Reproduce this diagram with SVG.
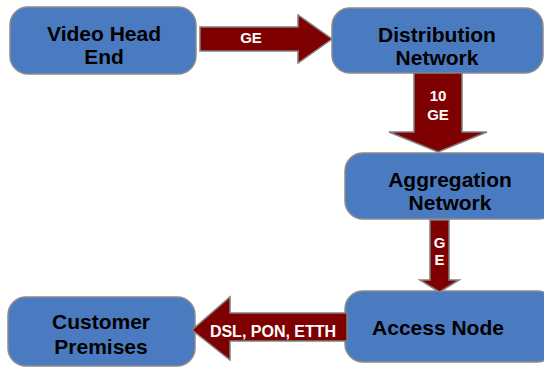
<svg xmlns="http://www.w3.org/2000/svg" width="544" height="367" viewBox="0 0 544 367">
<style>
.node{fill:#4a7bc0;stroke:#8c8c8c;stroke-width:1.5}
.nt{font-family:"Liberation Sans",Arial,sans-serif;font-weight:bold;font-size:21px;fill:#000;text-anchor:middle}
.arr{fill:#7f0000;stroke:#808080;stroke-width:1.5;stroke-linejoin:miter}
.at{font-family:"Liberation Sans",Arial,sans-serif;font-weight:bold;font-size:15px;fill:#fff;text-anchor:middle}
</style>
<rect width="544" height="367" fill="#fff"/>
<g id="video-head-end">
<rect class="node" x="10" y="7" width="186" height="67" rx="18"/>
<text class="nt" x="104" y="41">Video Head</text>
<text class="nt" x="104" y="64">End</text>
</g>
<g id="distribution-network">
<rect class="node" x="332" y="8" width="211" height="65" rx="18"/>
<text class="nt" x="437" y="42">Distribution</text>
<text class="nt" x="437" y="65">Network</text>
</g>
<g id="aggregation-network">
<rect class="node" x="345" y="153" width="212" height="66" rx="18"/>
<text class="nt" x="450" y="187">Aggregation</text>
<text class="nt" x="450" y="210">Network</text>
</g>
<g id="access-node">
<rect class="node" x="345" y="291" width="210" height="71" rx="18"/>
<text class="nt" x="438" y="335">Access Node</text>
</g>
<g id="customer-premises">
<rect class="node" x="8" y="297" width="187" height="69" rx="18"/>
<text class="nt" x="101" y="329">Customer</text>
<text class="nt" x="101" y="354">Premises</text>
</g>
<g id="connectors">
<polygon class="arr" points="200,27 298,27 298,15 332,39 298,63 298,51 200,51"/>
<text class="at" x="251" y="43">GE</text>
<polygon class="arr" points="414,73 462,73 462,132 487,132 438,152 389,132 414,132"/>
<text class="at" x="438" y="101">10</text>
<text class="at" x="438" y="120">GE</text>
<polygon class="arr" points="430,220 449,220 449,280 459,280 439.5,292 420,280 430,280"/>
<text class="at" x="439.5" y="248">G</text>
<text class="at" x="439.5" y="265">E</text>
<polygon class="arr" points="347,313 347,341 230,341 230,360 192,330 230,297 230,313"/>
<text class="at" x="273" y="337" style="font-size:16px">DSL, PON, ETTH</text>
</g>
</svg>
